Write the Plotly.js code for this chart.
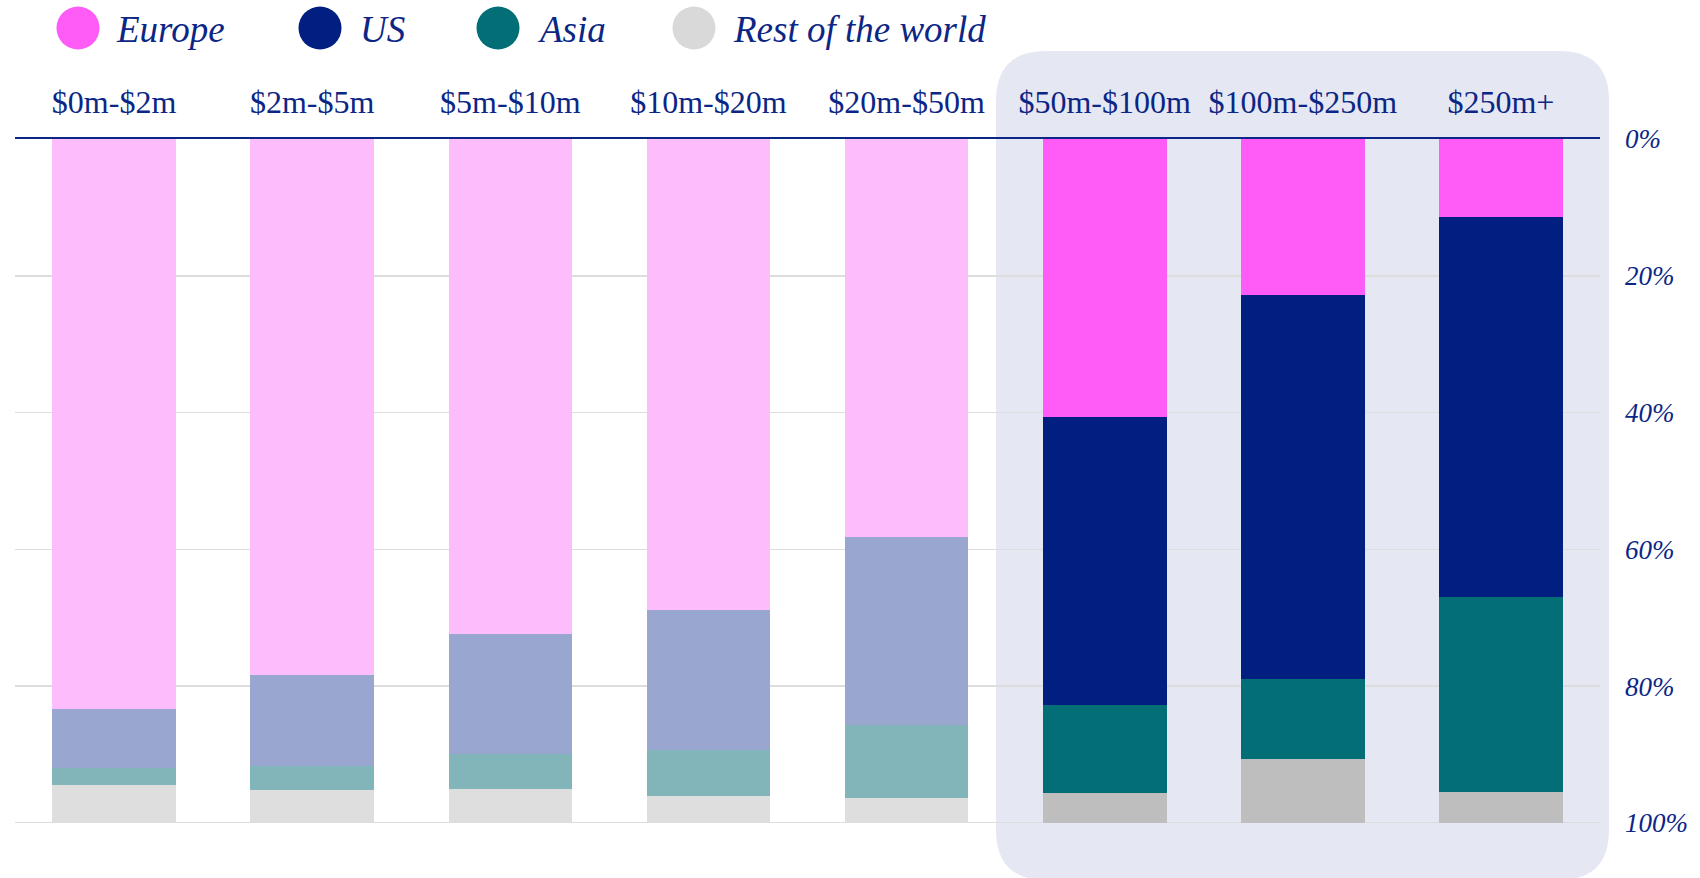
<!DOCTYPE html>
<html>
<head>
<meta charset="utf-8">
<script src="https://cdn.plot.ly/plotly-3.0.1.min.js"></script>
<style>html,body{margin:0;padding:0;background:#fff;}#chart{width:1700px;height:878px;}</style>
</head>
<body>
<div id="chart"></div>
<script>
// ---- data ----
var categories = ['$0m-$2m','$2m-$5m','$5m-$10m','$10m-$20m','$20m-$50m','$50m-$100m','$100m-$250m','$250m+'];
var seriesNames = ['Europe','US','Asia','Rest of the world'];
var europe = [83.4, 78.4, 72.3, 68.8, 58.2, 40.7, 22.8, 11.4];
var us     = [8.6, 13.2, 17.6, 20.5, 27.5, 42.1, 56.2, 55.5];
var asia   = [2.4, 3.6, 5.2, 6.8, 10.7, 12.8, 11.7, 28.6];
var rest   = [5.6, 4.8, 4.9, 3.9, 3.6, 4.4, 9.3, 4.5];
var yTickVals = [0, 20, 40, 60, 80, 100];

// ---- styling ----
var FONT = 'Liberation Serif, Times New Roman, serif';
var NAVY = '#0b2685';
var fullColors  = ['#ff5cf7', '#001f80', '#036e75', '#bebebe'];
var fadedColors = ['#fdbcfb', '#99a7d0', '#82b5b9', '#dedede'];
var legendColors = ['#ff5cf7', '#001f80', '#036e75', '#d9d9d9'];
var highlightFrom = 5;

var W = 1700, H = 878;
var M = {l: 15, r: 100, t: 139, b: 55};
var PW = W - M.l - M.r, PH = H - M.t - M.b;
function px(x){ return (x - M.l) / PW; }
function py(y){ return (H - M.b - y) / PH; }

var allSeries = [europe, us, asia, rest];
var traces = allSeries.map(function(vals, si){
  return {
    type: 'bar',
    name: seriesNames[si],
    x: categories,
    y: vals,
    marker: {
      color: categories.map(function(c, i){ return i >= highlightFrom ? fullColors[si] : fadedColors[si]; }),
      line: {width: 0}
    },
    hoverinfo: 'skip',
    showlegend: false
  };
});

// rounded highlight rectangle (pixel geometry -> paper coords)
var rl = 996, rr = 1609, rt = 51, rb = 880, rad = 50;
function P(x, y){ return px(x).toFixed(5) + ',' + py(y).toFixed(5); }
var path = 'M' + P(rl + rad, rt) +
  ' L' + P(rr - rad, rt) +
  ' Q' + P(rr, rt) + ' ' + P(rr, rt + rad) +
  ' L' + P(rr, rb - rad) +
  ' Q' + P(rr, rb) + ' ' + P(rr - rad, rb) +
  ' L' + P(rl + rad, rb) +
  ' Q' + P(rl, rb) + ' ' + P(rl, rb - rad) +
  ' L' + P(rl, rt + rad) +
  ' Q' + P(rl, rt) + ' ' + P(rl + rad, rt) + ' Z';

var shapes = [{
  type: 'path', xref: 'paper', yref: 'paper', path: path,
  fillcolor: '#e5e8f2', line: {width: 0}, layer: 'below'
}, {
  // bottom (100%) gridline, which Plotly drops at the range edge
  type: 'line', xref: 'paper', yref: 'y', x0: 0, x1: 1,
  y0: yTickVals[yTickVals.length - 1], y1: yTickVals[yTickVals.length - 1],
  line: {color: '#dddddd', width: 2}, layer: 'below'
}];

// custom legend
var legendCx = [78, 320, 498, 694];
var legendTx = [114, 358, 535, 731];
var legendY = 28, legendR = 21.5;
var annotations = [];
seriesNames.forEach(function(n, i){
  shapes.push({
    type: 'circle', xref: 'paper', yref: 'paper',
    xsizemode: 'pixel', ysizemode: 'pixel',
    xanchor: px(legendCx[i]), yanchor: py(legendY),
    x0: -legendR, x1: legendR, y0: -legendR, y1: legendR,
    fillcolor: legendColors[i], line: {width: 0}
  });
  annotations.push({
    xref: 'paper', yref: 'paper', x: px(legendTx[i]), y: py(legendY + 1),
    xanchor: 'left', yanchor: 'middle', showarrow: false,
    text: '<i>' + n + '</i>',
    font: {family: FONT, size: 37, color: NAVY}
  });
});

var layout = {
  width: W, height: H,
  margin: M,
  paper_bgcolor: '#ffffff',
  plot_bgcolor: 'rgba(0,0,0,0)',
  barmode: 'stack',
  bargap: 0.376,
  showlegend: false,
  xaxis: {
    type: 'category',
    side: 'top',
    range: [-0.5, 7.5],
    showgrid: false,
    zeroline: false,
    showline: true, linecolor: NAVY, linewidth: 2,
    ticks: '',
    ticklabelstandoff: 11,
    tickfont: {family: FONT, size: 32, color: NAVY},
    fixedrange: true
  },
  yaxis: {
    range: [100, 0],
    side: 'right',
    tickvals: yTickVals,
    ticktext: yTickVals.map(function(v){ return '<i>' + v + '%</i>'; }),
    showgrid: true, gridcolor: '#dddddd', gridwidth: 1.5,
    zeroline: false, showline: false,
    ticks: '',
    ticklabelstandoff: 24,
    tickfont: {family: FONT, size: 27, color: NAVY},
    fixedrange: true
  },
  shapes: shapes,
  annotations: annotations
};

Plotly.newPlot('chart', traces, layout, {displayModeBar: false, staticPlot: true});
</script>
</body>
</html>
